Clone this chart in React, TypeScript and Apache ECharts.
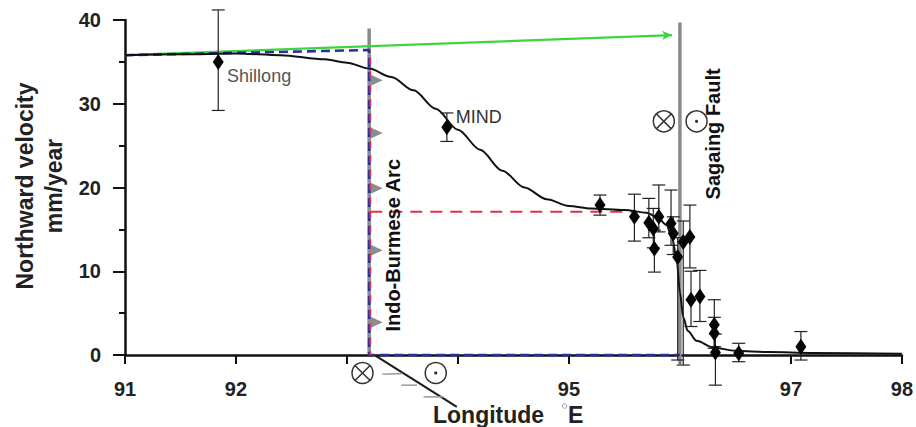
import React, { useEffect, useRef } from "react";
import * as echarts from "echarts";

// ---------- data ----------
const xLabelsShown = [91, 92, 95, 97, 98];

// fitted velocity profile (black curve)
const curveLon = [91.0, 91.5, 92.0, 92.4, 92.8, 93.0, 93.2, 93.4, 93.6, 93.8, 94.0, 94.2, 94.4, 94.6, 94.8, 95.0, 95.2, 95.5, 95.7, 95.8, 95.88, 95.93, 95.97, 96.0, 96.03, 96.07, 96.15, 96.3, 96.5, 96.8, 97.2, 98.0];
const curveVel = [35.8, 35.9, 36.0, 35.8, 35.3, 34.9, 34.2, 33.2, 31.6, 29.4, 26.9, 24.5, 22.0, 20.0, 18.6, 17.8, 17.5, 17.3, 17.0, 16.4, 15.5, 14.0, 11.5, 7.5, 4.5, 2.9, 1.7, 0.9, 0.5, 0.35, 0.25, 0.15];

// GPS stations
const stationLon = [91.84, 93.9, 95.28, 95.59, 95.72, 95.77, 95.81, 95.76, 95.92, 95.94, 95.98, 96.03, 96.09, 96.1, 96.18, 96.31, 96.31, 96.32, 96.53, 97.09];
const stationVel = [35.0, 27.2, 17.9, 16.5, 15.8, 12.7, 16.5, 15.1, 15.7, 14.5, 11.7, 13.5, 14.1, 6.6, 7.0, 3.6, 2.6, 0.3, 0.2, 1.0];
const stationErrLow = [29.2, 25.5, 16.7, 13.6, 14.0, 9.9, 14.7, 12.8, 13.1, 12.0, -0.6, -1.2, 10.4, 3.4, 4.0, 0.8, 1.0, -3.6, -0.8, -0.6];
const stationErrHigh = [41.2, 28.9, 19.1, 19.2, 18.7, 14.9, 20.3, 17.5, 19.7, 16.5, 14.0, 16.0, 17.9, 10.0, 10.1, 6.6, 4.5, 2.5, 1.4, 2.8];

// model lines
const greenLon = [91.0, 95.93];
const greenVel = [35.8, 38.2];
const blueLon = [91.0, 93.15, 93.2, 93.2, 96.0];
const blueVel = [35.8, 36.4, 36.4, 0, 0];
const redVertLon = [93.21, 93.21];
const redVertVel = [36.4, 0];
const redHorLon = [93.21, 95.6];
const redHorVel = [17.1, 17.1];

// faults
const arcLon = [93.2, 93.2];
const arcVel = [39.0, 0];
const sagaingLon = [96.0, 96.0];
const sagaingVel = [39.7, -1.0];
const arcTriangleVel = [32.8, 26.5, 19.9, 12.5, 3.9];
// strokes below the axis: fault trace (kind 0, black) and hatches (kind 1, gray)
const strokeLon = [[93.26, 93.99], [93.32, 93.5], [93.49, 93.63], [93.69, 93.87]];
const strokeVel = [[-0.1, -6.2], [-2.3, -2.2], [-3.6, -3.6], [-5.0, -5.0]];
const strokeKind = [0, 1, 1, 1];

// motion symbols: 0 = into page (⊗), 1 = out of page (⊙)
const motionLon = [93.14, 93.8, 95.855, 96.15];
const motionVel = [-2.15, -2.15, 27.9, 27.9];
const motionKind = [0, 1, 0, 1];

// annotations
const annotationText = ["Shillong", "MIND", "Indo-Burmese Arc", "Sagaing Fault"];
const annotationLon = [91.92, 93.98, 93.414, 96.30];
const annotationVel = [33.3, 28.4, 13.1, 26.4];

const FONT = '"Liberation Sans", Arial, Helvetica, sans-serif';

const pairs = (xs: number[], ys: number[]) => xs.map((x, i) => [x, ys[i]]);

export default function App() {
  const ref = useRef<HTMLDivElement>(null);

  useEffect(() => {
    document.body.style.margin = "0";
    const chart = echarts.init(ref.current!, undefined, { renderer: "svg" });

    const annotationStyles = [
      { align: "left", size: 18, weight: "normal", color: "#555", rotate: false },
      { align: "left", size: 18, weight: "normal", color: "#333", rotate: false },
      { align: "center", size: 20, weight: "bold", color: "#111", rotate: true },
      { align: "center", size: 20, weight: "bold", color: "#111", rotate: true },
    ];

    const option: any = {
      animation: false,
      backgroundColor: "#ffffff",
      grid: { left: 125, right: 11, top: 20, bottom: 72, containLabel: false },
      xAxis: {
        type: "value",
        min: 91,
        max: 98,
        interval: 1,
        axisLine: { lineStyle: { color: "#111", width: 2.5 } },
        axisTick: { show: true, length: 9, lineStyle: { color: "#111", width: 2 } },
        axisLabel: {
          margin: 24,
          fontSize: 20,
          fontWeight: "bold",
          color: "#222",
          fontFamily: FONT,
          formatter: (v: number) => (xLabelsShown.includes(v) ? String(v) : ""),
        },
        splitLine: { show: false },
      },
      yAxis: {
        type: "value",
        min: 0,
        max: 40,
        interval: 10,
        axisLine: { show: true, lineStyle: { color: "#111", width: 2.5 } },
        axisTick: { show: true, length: 12, lineStyle: { color: "#111", width: 2 } },
        minorTick: { show: true, splitNumber: 2, length: 6, lineStyle: { color: "#111", width: 2 } },
        axisLabel: { margin: 24, fontSize: 20, fontWeight: "bold", color: "#222", fontFamily: FONT },
        splitLine: { show: false },
      },
      graphic: [
        {
          type: "text",
          x: 39,
          y: 186,
          rotation: Math.PI / 2,
          style: {
            text: "Northward velocity\nmm/year",
            align: "center",
            verticalAlign: "middle",
            lineHeight: 29,
            fontSize: 23,
            fontWeight: "bold",
            fontFamily: FONT,
            fill: "#222",
          },
        },
        {
          type: "text",
          x: 433,
          y: 415,
          style: { text: "Longitude", align: "left", verticalAlign: "middle", fontSize: 23, fontWeight: "bold", fontFamily: FONT, fill: "#222" },
        },
        {
          type: "circle",
          shape: { cx: 564.5, cy: 406, r: 2.2 },
          style: { stroke: "#999", lineWidth: 1, fill: "none" },
        },
        {
          type: "text",
          x: 568,
          y: 415,
          style: { text: "E", align: "left", verticalAlign: "middle", fontSize: 23, fontWeight: "bold", fontFamily: FONT, fill: "#222" },
        },
      ],
      series: [
        // fault lines (gray)
        {
          type: "line", data: pairs(arcLon, arcVel), symbol: "none", clip: false, z: 1,
          lineStyle: { color: "#8a8a8a", width: 3.5 },
        },
        {
          type: "line", data: pairs(sagaingLon, sagaingVel), symbol: "none", clip: false, z: 1,
          lineStyle: { color: "#8a8a8a", width: 3.5 },
        },
        // thrust triangles
        {
          type: "scatter",
          data: arcTriangleVel.map((v) => [arcLon[0], v]),
          symbol: "triangle",
          symbolSize: [12, 13],
          symbolRotate: -90,
          symbolOffset: [7, 0],
          itemStyle: { color: "#8c8c8c", opacity: 1 },
          z: 3,
        },
        // green model line
        {
          type: "line",
          data: [
            { value: [greenLon[0], greenVel[0]], symbol: "none" },
            { value: [greenLon[1], greenVel[1]], symbol: "arrow", symbolSize: [7, 10], symbolRotate: -88 },
          ],
          showSymbol: true,
          clip: false,
          z: 4,
          lineStyle: { color: "#3fd43f", width: 2.2 },
          itemStyle: { color: "#3fd43f" },
        },
        // blue dashed model
        {
          type: "line", data: pairs(blueLon, blueVel), symbol: "none", clip: false, z: 5,
          lineStyle: { color: "#2a2f9e", width: 2.6, type: [9, 5] },
        },
        // red dashed model
        {
          type: "line", data: pairs(redVertLon, redVertVel), symbol: "none", clip: false, z: 6,
          lineStyle: { color: "#e0304a", width: 2, type: [7, 7], dashOffset: 7 },
        },
        {
          type: "line", data: pairs(redHorLon, redHorVel), symbol: "none", clip: false, z: 6,
          lineStyle: { color: "#e0304a", width: 2, type: [12, 8] },
        },
        // fitted curve
        {
          type: "line",
          data: pairs(curveLon, curveVel),
          symbol: "none",
          smooth: 0.3,
          smoothMonotone: "x",
          clip: false,
          z: 7,
          lineStyle: { color: "#111", width: 2 },
        },
        // error bars
        {
          type: "custom",
          coordinateSystem: "cartesian2d",
          clip: false,
          silent: true,
          z: 8,
          data: stationLon.map((x, i) => [x, stationErrLow[i], stationErrHigh[i]]),
          encode: { x: 0, y: [1, 2] },
          renderItem: (_p: any, api: any) => {
            const lo = api.coord([api.value(0), api.value(1)]);
            const hi = api.coord([api.value(0), api.value(2)]);
            const w = 6.5;
            const st = { stroke: "#222", lineWidth: 1.2 };
            return {
              type: "group",
              children: [
                { type: "line", shape: { x1: lo[0], y1: lo[1], x2: hi[0], y2: hi[1] }, style: st },
                { type: "line", shape: { x1: lo[0] - w, y1: lo[1], x2: lo[0] + w, y2: lo[1] }, style: st },
                { type: "line", shape: { x1: hi[0] - w, y1: hi[1], x2: hi[0] + w, y2: hi[1] }, style: st },
              ],
            };
          },
        },
        // stations
        {
          type: "scatter",
          data: pairs(stationLon, stationVel),
          symbol: "diamond",
          symbolSize: [11, 16],
          itemStyle: { color: "#050505", opacity: 1 },
          clip: false,
          z: 9,
        },
        // motion symbols, plus the fault trace with its hatches below the axis
        {
          type: "custom",
          coordinateSystem: "cartesian2d",
          clip: false,
          silent: true,
          z: 9,
          data: motionLon.map((x, i) => [x, motionVel[i], motionKind[i]]),
          renderItem: (params: any, api: any) => {
            const c = api.coord([api.value(0), api.value(1)]);
            const r = 10.5;
            const st = { stroke: "#333", lineWidth: 1.5, fill: "rgba(255,255,255,0)" };
            const children: any[] = [{ type: "circle", shape: { cx: c[0], cy: c[1], r }, style: st }];
            if (api.value(2) === 0) {
              const d = r * 0.72;
              children.push({ type: "line", shape: { x1: c[0] - d, y1: c[1] - d, x2: c[0] + d, y2: c[1] + d }, style: { stroke: "#333", lineWidth: 1.5 } });
              children.push({ type: "line", shape: { x1: c[0] - d, y1: c[1] + d, x2: c[0] + d, y2: c[1] - d }, style: { stroke: "#333", lineWidth: 1.5 } });
            } else {
              children.push({ type: "circle", shape: { cx: c[0], cy: c[1], r: 1.6 }, style: { fill: "#333" } });
            }
            if (params.dataIndex === 0) {
              strokeLon.forEach((xs, k) => {
                const a = api.coord([xs[0], strokeVel[k][0]]);
                const b = api.coord([xs[1], strokeVel[k][1]]);
                const black = strokeKind[k] === 0;
                children.push({
                  type: "line",
                  shape: { x1: a[0], y1: a[1], x2: b[0], y2: b[1] },
                  style: { stroke: black ? "#1a1a1a" : "#9a9a9a", lineWidth: black ? 2 : 1.5 },
                });
              });
            }
            return { type: "group", children };
          },
        },
        // annotations
        {
          type: "custom",
          coordinateSystem: "cartesian2d",
          clip: false,
          silent: true,
          z: 10,
          data: annotationText.map((_t, i) => [annotationLon[i], annotationVel[i], i]),
          renderItem: (_p: any, api: any) => {
            const i = api.value(2);
            const p = api.coord([api.value(0), api.value(1)]);
            const s = annotationStyles[i];
            return {
              type: "text",
              x: p[0],
              y: p[1],
              rotation: s.rotate ? Math.PI / 2 : 0,
              style: {
                text: annotationText[i],
                align: s.align,
                verticalAlign: "middle",
                fontSize: s.size,
                fontWeight: s.weight,
                fontFamily: FONT,
                fill: s.color,
              },
            };
          },
        },
      ],
    };

    chart.setOption(option);
    return () => chart.dispose();
  }, []);

  return (
    <div
      ref={ref}
      style={{ position: "absolute", left: 0, top: 0, width: 916, height: 427, background: "#fff" }}
    />
  );
}
